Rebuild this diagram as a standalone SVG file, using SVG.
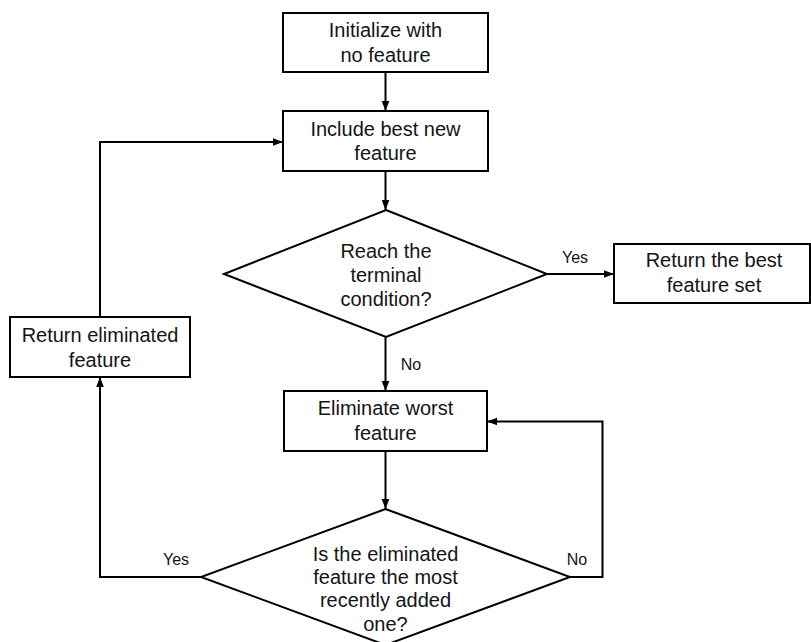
<svg xmlns="http://www.w3.org/2000/svg" width="811" height="642" viewBox="0 0 811 642">
  <style>
    .box { fill: #ffffff; stroke: #000000; stroke-width: 2; }
    .t { font-family: "Liberation Sans", Arial, sans-serif; font-size: 20px; fill: #141414; text-anchor: middle; }
    .lbl { font-family: "Liberation Sans", Arial, sans-serif; font-size: 16px; fill: #141414; text-anchor: middle; }
    .edge { fill: none; stroke: #000000; stroke-width: 2; marker-end: url(#arrow); }
  </style>
  <defs>
    <marker id="arrow" markerUnits="userSpaceOnUse" markerWidth="10" markerHeight="10" viewBox="0 0 10 10" refX="10" refY="5" orient="auto">
      <path d="M0,1.2 L10,5 L0,8.8 Z" fill="#000000"/>
    </marker>
  </defs>
  <rect width="811" height="642" fill="#ffffff"/>

  <g id="connectors">
    <path class="edge" d="M385.5,72 V111"/>
    <path class="edge" d="M385.5,171 V210"/>
    <path class="edge" d="M547,274 H614"/>
    <path class="edge" d="M385.5,337 V391"/>
    <path class="edge" d="M385.5,451 V509"/>
    <path class="edge" d="M570,577 H602.5 V421.5 H487"/>
    <path class="edge" d="M201,577 H100 V377"/>
    <path class="edge" d="M100,317 V142 H283"/>
    <text class="lbl" x="575" y="263">Yes</text>
    <text class="lbl" x="411" y="370">No</text>
    <text class="lbl" x="176" y="565">Yes</text>
    <text class="lbl" x="577" y="565">No</text>
  </g>

  <g id="init">
    <rect class="box" x="283" y="13" width="205" height="59"/>
    <text class="t" x="385.5" y="37">Initialize with</text>
    <text class="t" x="385.5" y="62">no feature</text>
  </g>

  <g id="include">
    <rect class="box" x="283" y="111" width="205" height="60"/>
    <text class="t" x="385.5" y="136">Include best new</text>
    <text class="t" x="385.5" y="160">feature</text>
  </g>

  <g id="terminal-check">
    <polygon class="box" points="386,210 547,274 386,337 224,274"/>
    <text class="t" x="386" y="258">Reach the</text>
    <text class="t" x="386" y="282">terminal</text>
    <text class="t" x="386" y="306">condition?</text>
  </g>

  <g id="return-best">
    <rect class="box" x="614" y="244" width="196" height="59"/>
    <text class="t" x="714" y="267">Return the best</text>
    <text class="t" x="714" y="292">feature set</text>
  </g>

  <g id="return-eliminated">
    <rect class="box" x="10" y="317" width="180" height="60"/>
    <text class="t" x="100" y="342">Return eliminated</text>
    <text class="t" x="100" y="367">feature</text>
  </g>

  <g id="eliminate">
    <rect class="box" x="284" y="391" width="203" height="60"/>
    <text class="t" x="385.5" y="415">Eliminate worst</text>
    <text class="t" x="385.5" y="440">feature</text>
  </g>

  <g id="recent-check">
    <polygon class="box" points="385.5,509 570,577 385.5,645 201,577"/>
    <text class="t" x="385.5" y="561">Is the eliminated</text>
    <text class="t" x="385.5" y="584">feature the most</text>
    <text class="t" x="385.5" y="607">recently added</text>
    <text class="t" x="385.5" y="631">one?</text>
  </g>
</svg>
